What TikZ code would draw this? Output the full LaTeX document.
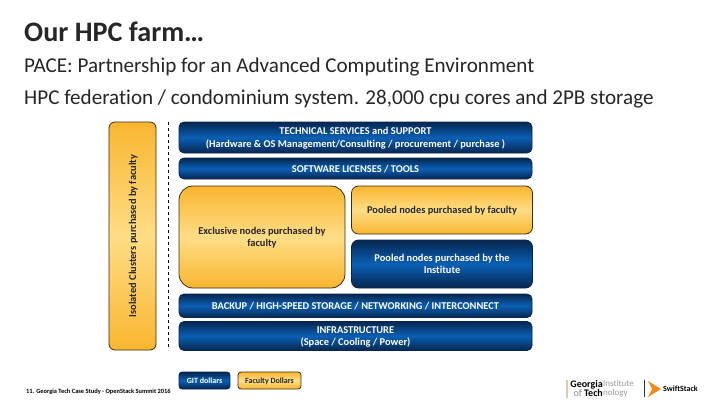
\documentclass[tikz,border=0pt]{standalone}
\usepackage{fontspec}
\setmainfont[Ligatures=NoCommon]{Carlito}
\usepackage{xcolor}
\usetikzlibrary{positioning}
\definecolor{farmblue}{HTML}{0A5FB4}
\definecolor{farmnavy}{HTML}{06264F}
\definecolor{farmgold}{HTML}{F9B62F}
\definecolor{farmpale}{HTML}{FFDD86}
\definecolor{farmedge}{HTML}{3A2E12}
\definecolor{logoorange}{HTML}{F08A1D}
\definecolor{logotan}{HTML}{D9CDB0}

\begin{document}
\begin{tikzpicture}[
  x=1pt, y=-1pt,
  font=\bfseries\fontsize{10.4}{12.5}\selectfont,
  slide/.style={anchor=base west, inner sep=0pt, font=\fontsize{21.1}{24}\selectfont, text=black!85},
  bluebox/.style={draw=farmnavy, line width=0.8pt, rounded corners=5pt, top color=farmnavy, bottom color=farmnavy,
    middle color=farmblue, text=white, align=center, inner sep=0pt, text depth=0pt},
  goldbox/.style={draw=farmedge, line width=0.8pt, rounded corners=6pt, top color=farmgold, bottom color=farmgold,
    middle color=farmpale, text=black!85, align=center, inner sep=0pt, text depth=0pt},
  logotext/.style={inner sep=0pt, anchor=west}
]
  \useasboundingbox (0,0) rectangle (720,405);

  % slide text
  \node[slide, font=\bfseries\fontsize{28.2}{30}\selectfont] (title) at (24,41) {Our HPC farm…};
  \node[slide] (pace) at (24,72) {PACE: Partnership for an Advanced Computing Environment};
  \node[slide] (federation) at (24,104) {HPC federation / condominium system. 28,000 cpu cores and 2PB storage};

  % layers
  \node[bluebox, minimum width=353pt, minimum height=31pt] (tech) at (355.5,137.5)
    {TECHNICAL SERVICES and SUPPORT\\(Hardware \& OS Management/Consulting / procurement / purchase )};
  \node[bluebox, minimum width=353pt, minimum height=21pt] (software) at (355.5,168.5)
    {SOFTWARE LICENSES / TOOLS};
  \node[goldbox, rounded corners=14pt, minimum width=166pt, minimum height=102pt] (exclusive) at (262,237)
    {Exclusive nodes purchased by\\faculty};
  \node[goldbox, rounded corners=7pt, minimum width=181pt, minimum height=48pt] (poolfaculty) at (442,210)
    {Pooled nodes purchased by faculty};
  \node[bluebox, rounded corners=7pt, minimum width=181pt, minimum height=48pt] (poolinst) at (442,264)
    {Pooled nodes purchased by the\\Institute};
  \node[bluebox, minimum width=353pt, minimum height=23.5pt] (backup) at (355.5,305.75)
    {BACKUP / HIGH-SPEED STORAGE / NETWORKING / INTERCONNECT};
  \node[bluebox, minimum width=353pt, minimum height=29pt] (infra) at (355.5,336)
    {INFRASTRUCTURE\\(Space / Cooling / Power)};

  % isolated clusters
  \node[goldbox, minimum width=228pt, minimum height=47pt, rotate=90] (isolated) at (132.5,236)
    {Isolated Clusters purchased by faculty};
  \coordinate (dashtop) at (168,122);
  \coordinate (dashbottom) at (168,350);
  \draw[dashed, thick] (dashtop) -- (dashbottom);

  % legend
  \node[bluebox, rounded corners=3pt, minimum width=51pt, minimum height=17pt,
    font=\bfseries\fontsize{8}{10}\selectfont] (git) at (204.5,380.5) {GIT dollars};
  \node[goldbox, rounded corners=3pt, minimum width=63pt, minimum height=17pt,
    font=\bfseries\fontsize{8}{10}\selectfont] (dollars) at (269.5,380.5) {Faculty Dollars};

  % footer and logos
  \node[anchor=base west, inner sep=0pt, font=\bfseries\fontsize{6.4}{7}\selectfont] (footer) at (26,393)
    {11. Georgia Tech Case Study - OpenStack Summit 2016};
  \coordinate (tantop) at (567,380);
  \coordinate (tanbottom) at (567,398);
  \draw[logotan, line width=1.5pt] (tantop) -- (tanbottom);
  \node[inner sep=0pt, anchor=east, font=\bfseries\fontsize{10}{9}\selectfont, align=right] (georgia) at (603,389)
    {Georgia\\{\color{black!45}\mdseries of} Tech};
  \node[logotext, font=\fontsize{9}{9}\selectfont, text=black!40, align=left] (institute) at (603,389)
    {Institute\\nology};
  \coordinate (bartop) at (644,380);
  \coordinate (barbottom) at (644,397);
  \draw[black!80] (bartop) -- (barbottom);
  \fill[logoorange] (648,381) -- (661,389) -- (648,397) -- (652,389) -- cycle;
  \node[logotext, font=\bfseries\fontsize{8}{9}\selectfont] (swiftstack) at (663,389) {SwiftStack};
\end{tikzpicture}
\end{document}
